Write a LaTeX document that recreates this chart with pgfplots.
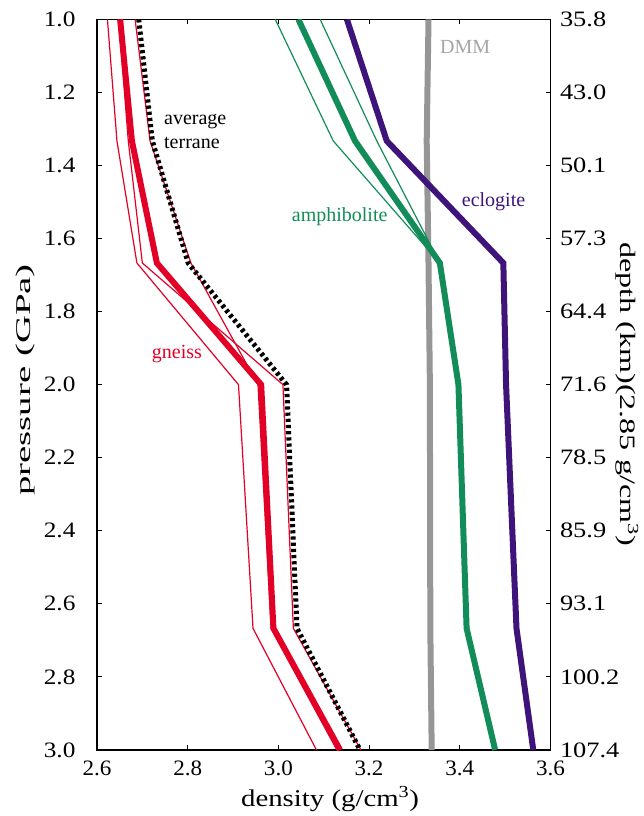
\documentclass[border=0pt]{standalone}
\usepackage{fontspec}
\setmainfont{Liberation Serif}
\newfontfamily\ytf[FakeStretch=1.15]{Liberation Serif}
\newfontfamily\rtf[FakeStretch=1.2]{Liberation Serif}
\newfontfamily\xtf[FakeStretch=1.05]{Liberation Serif}
\newfontfamily\ylf[FakeStretch=1.85]{Liberation Serif}
\newfontfamily\xlf[FakeStretch=1.2]{Liberation Serif}
\newfontfamily\rlf[FakeStretch=1.46]{Liberation Serif}
\usepackage{pgfplots}
\pgfplotsset{compat=1.18}
\definecolor{gred}{RGB}{226,0,38}
\definecolor{agreen}{RGB}{18,140,88}
\definecolor{epurple}{RGB}{62,20,122}
\definecolor{dmmgrey}{RGB}{150,150,150}
\definecolor{dmmtext}{RGB}{165,165,165}
\begin{document}
\begin{tikzpicture}
\useasboundingbox (-97pt,-66pt) rectangle (547pt,750pt);
\begin{axis}[
  at={(0pt,0pt)}, anchor=south west,
  scale only axis, width=453.5pt, height=730.7pt,
  xmin=2.6, xmax=3.6, ymin=1, ymax=3, y dir=reverse,
  xtick={2.6,2.8,3.0,3.2,3.4,3.6},
  xticklabels={2.6,2.8,3.0,3.2,3.4,3.6},
  ytick={1,1.2,1.4,1.6,1.8,2,2.2,2.4,2.6,2.8,3},
  yticklabels={1.0,1.2,1.4,1.6,1.8,2.0,2.2,2.4,2.6,2.8,3.0},
  tick align=inside, major tick length=5pt,
  axis line style={line width=1.2pt},
  tick style={line width=1pt, black},
  xticklabel style={font=\xtf\fontsize{22}{22}\selectfont, yshift=-7pt},
  yticklabel style={font=\ytf\fontsize{22}{22}\selectfont, xshift=-18pt, anchor=east},
  clip=true,
]
% DMM
\addplot[dmmgrey, line width=6pt] coordinates {(3.331,1.0) (3.327,1.333) (3.331,1.667) (3.334,2.0) (3.335,2.667) (3.338,3.0)};
% amphibolite thin
\addplot[agreen, line width=1.2pt] coordinates {(2.993,1.0) (3.121,1.333) (3.356,1.667)};
\addplot[agreen, line width=1.2pt] coordinates {(3.092,1.0) (3.217,1.333) (3.356,1.667)};
% amphibolite thick
\addplot[agreen, line width=6pt] coordinates {(3.044,1.0) (3.169,1.333) (3.356,1.667) (3.397,2.0) (3.415,2.667) (3.478,3.0)};
% eclogite
\addplot[epurple, line width=6pt] coordinates {(3.151,1.0) (3.239,1.333) (3.496,1.667) (3.502,2.0) (3.525,2.667) (3.562,3.0)};
% gneiss thin
\addplot[gred, line width=1.2pt] coordinates {(2.623,1.0) (2.644,1.333) (2.688,1.667) (2.912,2.0) (2.944,2.667) (3.084,3.0)};
\addplot[gred, line width=1.2pt] coordinates {(2.648,1.0) (2.669,1.333) (2.700,1.667) (3.010,2.0) (3.033,2.667) (3.182,3.0)};
\addplot[gred, line width=1.2pt] coordinates {(2.684,1.0) (2.717,1.333) (2.807,1.667) (2.955,2.0) (2.984,2.667) (3.129,3.0)};
% gneiss thick
\addplot[gred, line width=6pt] coordinates {(2.651,1.0) (2.677,1.333) (2.732,1.667) (2.962,2.0) (2.989,2.667) (3.136,3.0)};
% average terrane
\addplot[black, line width=5pt, dash pattern=on 3.2pt off 3pt] coordinates {(2.692,1.0) (2.722,1.333) (2.801,1.667) (3.018,2.0) (3.041,2.667) (3.180,3.0)};
% labels
\node[anchor=base west, inner sep=0pt, font=\fontsize{20}{20}\selectfont] at (axis cs:2.7477,1.2893) {average};
\node[anchor=base west, inner sep=0pt, font=\fontsize{20}{20}\selectfont] at (axis cs:2.7477,1.3531) {terrane};
\node[anchor=base west, inner sep=0pt, text=gred, font=\fontsize{20}{20}\selectfont] at (axis cs:2.7206,1.928) {gneiss};
\node[anchor=base west, inner sep=0pt, text=agreen, font=\fontsize{20}{20}\selectfont] at (axis cs:3.0293,1.554) {amphibolite};
\node[anchor=base west, inner sep=0pt, text=epurple, font=\fontsize{20}{20}\selectfont] at (axis cs:3.4042,1.513) {eclogite};
\node[anchor=base west, inner sep=0pt, text=dmmtext, font=\fontsize{20}{20}\selectfont] at (axis cs:3.3563,1.093) {DMM};
\end{axis}
\begin{axis}[
  at={(0pt,0pt)}, anchor=south west,
  scale only axis, width=453.5pt, height=730.7pt,
  xmin=2.6, xmax=3.6, ymin=1, ymax=3, y dir=reverse,
  hide x axis,
  axis y line*=right,
  y axis line style={draw=none},
  ytick={1,1.2,1.4,1.6,1.8,2,2.2,2.4,2.6,2.8,3},
  yticklabels={35.8,43.0,50.1,57.3,64.4,71.6,78.5,85.9,93.1,100.2,107.4},
  ytick style={draw=none},
  yticklabel style={font=\rtf\fontsize{22}{22}\selectfont, anchor=west, xshift=6pt},
]
\addplot[draw=none] coordinates {(2.6,1) (3.6,3)};
\end{axis}
\node[rotate=90, font=\ylf\fontsize{21}{21}\selectfont] at (-72pt,370pt) {pressure (GPa)};
\node[rotate=-90, font=\rlf\fontsize{22}{22}\selectfont] at (530pt,356pt) {depth (km)(2.85 g/cm\textsuperscript{3})};
\node[font=\xlf\fontsize{24}{24}\selectfont] at (233pt,-49pt) {density (g/cm\textsuperscript{3})};
\end{tikzpicture}
\end{document}
